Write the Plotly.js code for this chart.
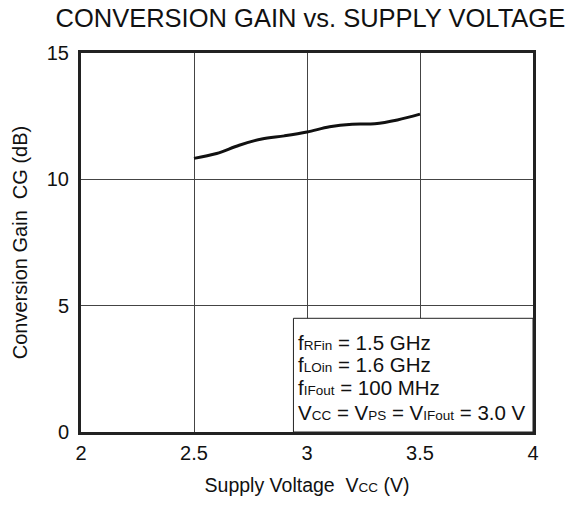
<!DOCTYPE html>
<html><head><meta charset="utf-8">
<script src="https://cdn.plot.ly/plotly-3.0.1.min.js"></script>
<style>html,body{margin:0;padding:0;background:#fff}#chart{width:579px;height:507px}</style>
</head><body><div id="chart"></div>
<script>
const supplyVoltage = [2.5, 2.6, 2.7, 2.8, 2.9, 3.0, 3.1, 3.2, 3.3, 3.4, 3.5];
const conversionGain = [10.83, 11.02, 11.35, 11.6, 11.72, 11.87, 12.08, 12.18, 12.2, 12.35, 12.58];
const xTicks = [2, 2.5, 3, 3.5, 4];
const yTicks = [0, 5, 10, 15];
const S = t => '<span style="font-size:13.5px">' + t + '</span>';
const conditionLines = [
  'f' + S('RFin') + ' = 1.5 GHz',
  'f' + S('LOin') + ' = 1.6 GHz',
  'f' + S('IFout') + ' = 100 MHz',
  'V' + S('CC') + ' = V' + S('PS') + ' = V' + S('IFout') + ' = 3.0 V'
];
const conditionY = [3.56, 2.69, 1.76, 0.79];

const fam = 'Liberation Sans, Arial, sans-serif';
const font = {family: fam, color: '#111', size: 20};

Plotly.newPlot('chart', [{
  x: supplyVoltage, y: conversionGain, type: 'scatter', mode: 'lines',
  line: {color: '#111', width: 3, shape: 'spline', smoothing: 1},
  hoverinfo: 'skip'
}], {
  width: 579, height: 507,
  margin: {l: 81, r: 46, t: 53, b: 75},
  paper_bgcolor: '#fff', plot_bgcolor: '#fff',
  showlegend: false,
  font: font,
  title: {text: 'CONVERSION GAIN vs. SUPPLY VOLTAGE', x: 0.536, xanchor: 'center', y: 0.9635, yanchor: 'middle', font: {family: fam, size: 25.5, color: '#111'}},
  xaxis: {
    range: [2, 4], tickvals: xTicks, ticktext: xTicks.map(String),
    showgrid: true, gridcolor: '#444', gridwidth: 1,
    showline: true, linecolor: '#222', linewidth: 3, mirror: true,
    ticks: '', ticklabelstandoff: 1, zeroline: false,
    tickfont: {size: 20},
    title: {text: 'Supply Voltage  V' + S('CC') + ' (V)', font: {size: 19.5}, standoff: 16}
  },
  yaxis: {
    range: [0, 15], tickvals: yTicks, ticktext: yTicks.map(String),
    showgrid: true, gridcolor: '#444', gridwidth: 1,
    showline: true, linecolor: '#222', linewidth: 3, mirror: true,
    ticks: '', ticklabelstandoff: 5, zeroline: false,
    tickfont: {size: 20},
    title: {text: 'Conversion Gain  CG (dB)', font: {size: 20}, standoff: 14}
  },
  shapes: [{type: 'rect', xref: 'x', yref: 'y', x0: 2.94, x1: 4, y0: 0, y1: 4.5,
    line: {color: '#222', width: 1}, fillcolor: '#fff', layer: 'above'}],
  annotations: conditionLines.map((t, i) => ({
    xref: 'x', yref: 'y', x: 2.951, y: conditionY[i], xanchor: 'left', yanchor: 'middle', align: 'left',
    showarrow: false, text: t, font: {size: 20.5, family: fam, color: '#111'}
  }))
}, {displayModeBar: false, staticPlot: true});
</script></body></html>
